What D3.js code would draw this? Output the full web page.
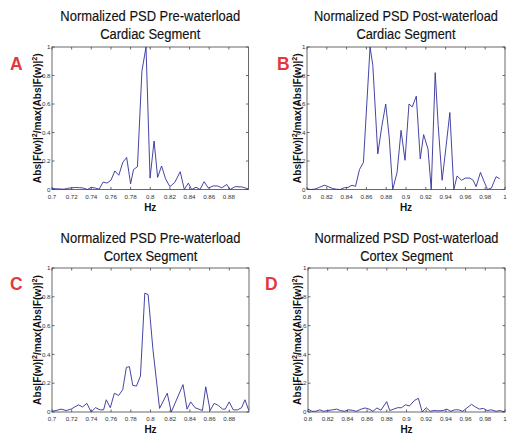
<!DOCTYPE html>
<html lang="en">
<head>
<meta charset="utf-8">
<title>Normalized PSD</title>
<style>
  html, body { margin: 0; background: #fff; }
  svg { display: block; font-family: 'Liberation Sans', Arial, sans-serif; }
</style>
</head>
<body>
<script src="https://cdn.jsdelivr.net/npm/d3@7/dist/d3.min.js"></script>
<script>
// [Hz, normalized power] pairs
const preCardiac = [
  [0.700, 0.008], [0.704, 0.005], [0.708, 0.004], [0.712, 0.002], [0.716, 0.008],
  [0.720, 0.012], [0.724, 0.014], [0.728, 0.013], [0.732, 0.010], [0.736, 0.000],
  [0.740, 0.015], [0.744, 0.010], [0.748, 0.002], [0.752, 0.052], [0.756, 0.045],
  [0.760, 0.065], [0.764, 0.130], [0.768, 0.100], [0.772, 0.190], [0.776, 0.225],
  [0.780, 0.040], [0.783, 0.140], [0.787, 0.160], [0.7915, 0.830], [0.7957, 1.000],
  [0.7998, 0.080], [0.8039, 0.340], [0.8075, 0.085], [0.8115, 0.165], [0.8156, 0.075],
  [0.820, 0.020], [0.825, 0.050], [0.8305, 0.125], [0.8347, 0.000], [0.8388, 0.045],
  [0.8422, 0.000], [0.8466, 0.016], [0.8507, 0.000], [0.8548, 0.055], [0.8592, 0.010],
  [0.864, 0.025], [0.8685, 0.025], [0.8728, 0.012], [0.8779, 0.035], [0.8813, 0.000],
  [0.8864, 0.020], [0.8932, 0.018], [0.8995, 0.005]
]

const postCardiac = [
  [0.800, 0.005], [0.804, 0.000], [0.808, 0.003], [0.8125, 0.015], [0.8175, 0.030],
  [0.8215, 0.020], [0.8255, 0.008], [0.8295, 0.002], [0.8335, 0.000], [0.8375, 0.012],
  [0.8415, 0.015], [0.8455, 0.030], [0.849, 0.022], [0.853, 0.140], [0.857, 0.190],
  [0.8637, 1.000], [0.8665, 0.870], [0.8715, 0.250], [0.8755, 0.440], [0.8795, 0.600],
  [0.883, 0.370], [0.8866, 0.000], [0.891, 0.120], [0.895, 0.415], [0.899, 0.205],
  [0.903, 0.600], [0.9063, 0.580], [0.9104, 0.655], [0.9144, 0.215], [0.9178, 0.385],
  [0.9222, 0.285], [0.9255, 0.000], [0.9295, 0.820], [0.9325, 0.450], [0.9365, 0.065],
  [0.9406, 0.310], [0.9443, 0.540], [0.9483, 0.000], [0.9516, 0.095], [0.956, 0.065],
  [0.960, 0.080], [0.9645, 0.080], [0.9678, 0.065], [0.9708, 0.020], [0.9752, 0.120],
  [0.9786, 0.060], [0.9823, 0.000], [0.9863, 0.010], [0.991, 0.090], [0.9947, 0.075]
]

const preCortex = [
  [0.700, 0.005], [0.7041, 0.010], [0.7092, 0.020], [0.7143, 0.010], [0.7194, 0.020],
  [0.7269, 0.050], [0.7310, 0.035], [0.7354, 0.060], [0.7398, 0.000], [0.7442, 0.030],
  [0.7490, 0.015], [0.7524, 0.015], [0.7551, 0.085], [0.7592, 0.030], [0.7633, 0.130],
  [0.7677, 0.115], [0.7718, 0.155], [0.7755, 0.310], [0.7786, 0.315], [0.7820, 0.185],
  [0.7857, 0.180], [0.7898, 0.250], [0.7942, 0.825], [0.7976, 0.815], [0.8024, 0.440],
  [0.8092, 0.025], [0.8170, 0.130], [0.8211, 0.000], [0.8330, 0.190], [0.8371, 0.020],
  [0.8408, 0.070], [0.8452, 0.030], [0.8527, 0.010], [0.8561, 0.175], [0.8605, 0.010],
  [0.8646, 0.060], [0.8690, 0.045], [0.8731, 0.020], [0.8759, 0.020], [0.8799, 0.070],
  [0.8840, 0.015], [0.8884, 0.015], [0.8925, 0.030], [0.8959, 0.085], [0.8998, 0.010]
]

const postCortex = [
  [0.800, 0.020], [0.804, 0.005], [0.808, 0.005], [0.812, 0.015], [0.816, 0.005],
  [0.820, 0.010], [0.825, 0.015], [0.829, 0.020], [0.833, 0.010], [0.837, 0.005],
  [0.841, 0.015], [0.845, 0.012], [0.849, 0.005], [0.854, 0.020], [0.858, 0.028],
  [0.862, 0.020], [0.866, 0.005], [0.870, 0.028], [0.874, 0.012], [0.8799, 0.072],
  [0.883, 0.010], [0.887, 0.020], [0.891, 0.030], [0.895, 0.030], [0.899, 0.050],
  [0.903, 0.042], [0.908, 0.080], [0.912, 0.095], [0.916, 0.000], [0.920, 0.030],
  [0.924, 0.005], [0.928, 0.010], [0.932, 0.008], [0.937, 0.010], [0.941, 0.020],
  [0.945, 0.005], [0.949, 0.015], [0.953, 0.015], [0.957, 0.005], [0.966, 0.053],
  [0.970, 0.035], [0.974, 0.020], [0.978, 0.025], [0.982, 0.010], [0.986, 0.015],
  [0.991, 0.005], [0.995, 0.010], [0.999, 0.002]
]

const lowTicks = [0.7, 0.72, 0.74, 0.76, 0.78, 0.8, 0.82, 0.84, 0.86, 0.88]
const highTicks = [0.8, 0.82, 0.84, 0.86, 0.88, 0.9, 0.92, 0.94, 0.96, 0.98, 1]
const yTicks = [0, 0.2, 0.4, 0.6, 0.8, 1]

const titles = ['Normalized PSD Pre-waterload', 'Normalized PSD Post-waterload']
const segments = ['Cardiac Segment', 'Cortex Segment']
const letters = ['A', 'B', 'C', 'D']

const W = 507, H = 434
const lineColor = '#30309a'
const letterColor = '#e4373c'
const tickLen = 2.5

const panels = [
  { letter: letters[0], title: titles[0], sub: segments[0], data: preCardiac, domain: [0.7, 0.9], ticks: lowTicks,
    box: [52, 47, 248.5, 189.5], titleY: 20.5, titleW: 180, letterXY: [10, 69.5], ylabX: 37, hzY: 211 },
  { letter: letters[1], title: titles[1], sub: segments[0], data: postCardiac, domain: [0.8, 1], ticks: highTicks,
    box: [307, 47, 505, 189.5], titleY: 20.5, titleW: 184, letterXY: [277, 69.5], ylabX: 297, hzY: 211 },
  { letter: letters[2], title: titles[0], sub: segments[1], data: preCortex, domain: [0.7, 0.9], ticks: lowTicks,
    box: [52, 268, 249, 412], titleY: 243, titleW: 180, letterXY: [10, 290], ylabX: 37, hzY: 433 },
  { letter: letters[3], title: titles[1], sub: segments[1], data: postCortex, domain: [0.8, 1], ticks: highTicks,
    box: [308, 268, 505, 412], titleY: 243, titleW: 184, letterXY: [265, 290], ylabX: 297, hzY: 433 }
]

const fmt = d => String(+d.toFixed(2))

const svg = d3.select('body').append('svg')
  .attr('width', W)
  .attr('height', H)
  .attr('viewBox', [0, 0, W, H])

svg.append('rect').attr('width', W).attr('height', H).attr('fill', '#fff')

panels.forEach(p => {
  const [x0, y0, x1, y1] = p.box
  const cx = (x0 + x1) / 2
  const x = d3.scaleLinear().domain(p.domain).range([x0, x1])
  const y = d3.scaleLinear().domain([0, 1]).range([y1, y0])
  const g = svg.append('g')

  // titles, squeezed horizontally like the narrow original font
  const t1 = g.append('text')
    .attr('text-anchor', 'middle')
    .attr('font-size', 14.5)
    .attr('fill', '#111')
    .attr('stroke', '#111')
    .attr('stroke-width', 0.15)
    .text(p.title)
  const k = p.titleW / t1.node().getComputedTextLength()
  t1.attr('transform', `translate(${cx},${p.titleY}) scale(${k},1)`)
  g.append('text')
    .attr('text-anchor', 'middle')
    .attr('font-size', 14.5)
    .attr('fill', '#111')
    .attr('stroke', '#111')
    .attr('stroke-width', 0.15)
    .attr('transform', `translate(${cx},${p.titleY + 18}) scale(${k},1)`)
    .text(p.sub)

  // panel letter
  g.append('text')
    .attr('x', p.letterXY[0])
    .attr('y', p.letterXY[1])
    .attr('font-size', 17.5)
    .attr('font-weight', 'bold')
    .attr('fill', letterColor)
    .text(p.letter)

  // box
  g.append('rect')
    .attr('x', x0).attr('y', y0)
    .attr('width', x1 - x0).attr('height', y1 - y0)
    .attr('fill', 'none')
    .attr('stroke', '#444')
    .attr('stroke-width', 0.8)

  // inward ticks on all four sides
  const tg = g.append('g').attr('stroke', '#444').attr('stroke-width', 0.8)
  p.ticks.forEach(t => {
    tg.append('line').attr('x1', x(t)).attr('x2', x(t)).attr('y1', y1).attr('y2', y1 - tickLen)
    tg.append('line').attr('x1', x(t)).attr('x2', x(t)).attr('y1', y0).attr('y2', y0 + tickLen)
  })
  yTicks.forEach(t => {
    tg.append('line').attr('x1', x0).attr('x2', x0 + tickLen).attr('y1', y(t)).attr('y2', y(t))
    tg.append('line').attr('x1', x1).attr('x2', x1 - tickLen).attr('y1', y(t)).attr('y2', y(t))
  })

  // tick labels
  g.append('g').selectAll('text')
    .data(p.ticks)
    .join('text')
    .attr('x', d => x(d))
    .attr('y', y1 + 9)
    .attr('text-anchor', 'middle')
    .attr('font-size', 6.2)
    .attr('fill', '#333')
    .text(fmt)
  g.append('g').selectAll('text')
    .data(yTicks)
    .join('text')
    .attr('x', x0 - 1.5)
    .attr('y', d => y(d))
    .attr('dy', '0.35em')
    .attr('text-anchor', 'end')
    .attr('font-size', 6.2)
    .attr('fill', '#333')
    .text(fmt)

  // series
  g.append('path')
    .datum(p.data)
    .attr('fill', 'none')
    .attr('stroke', lineColor)
    .attr('stroke-width', 0.9)
    .attr('stroke-linejoin', 'round')
    .attr('d', d3.line().x(d => x(d[0])).y(d => y(d[1])))

  // axis labels
  g.append('text')
    .attr('x', cx)
    .attr('y', p.hzY)
    .attr('text-anchor', 'middle')
    .attr('font-size', 10)
    .attr('font-weight', 'bold')
    .attr('fill', '#111')
    .text('Hz')

  const yl = g.append('text')
    .attr('text-anchor', 'middle')
    .attr('font-size', 10)
    .attr('font-weight', 'bold')
    .attr('fill', '#111')
  yl.append('tspan').text('Abs|F(w)|')
  yl.append('tspan').attr('dy', -4).attr('font-size', 7).text('2')
  yl.append('tspan').attr('dy', 4).text('/max(Abs|F(w)|')
  yl.append('tspan').attr('dy', -4).attr('font-size', 7).text('2')
  yl.append('tspan').attr('dy', 4).text(')')
  const ky = 130 / yl.node().getComputedTextLength()
  yl.attr('transform', `translate(${p.ylabX + 3.5},${(y0 + y1) / 2}) rotate(-90) scale(${ky},1)`)
})
</script>
</body>
</html>
